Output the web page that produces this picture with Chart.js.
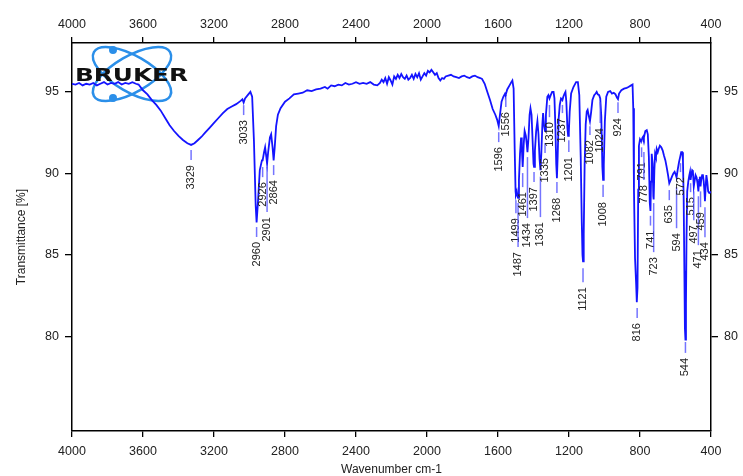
<!DOCTYPE html>
<html>
<head>
<meta charset="utf-8">
<script src="https://cdn.jsdelivr.net/npm/chart.js@4.4.0/dist/chart.umd.min.js"></script>
<style>
    html, body { margin: 0; padding: 0; background: #fff; }
</style>
</head>
<body>
<canvas id="irChart" width="743" height="476"></canvas>
<script>
// IR spectrum (wavenumber cm-1 / transmittance %)
const wavenumbers = [
    4000, 3980, 3960, 3940, 3920, 3900, 3880, 3860, 3840, 3820, 3800, 3780, 3760, 3740, 3720, 3700, 3680, 3660, 3640, 3625,
    3600, 3575, 3550, 3525, 3500, 3475, 3450, 3425, 3400, 3375, 3350, 3329, 3310, 3290, 3270, 3250, 3225, 3200, 3175, 3150,
    3125, 3100, 3075, 3050, 3040, 3033, 3025, 3010, 2995, 2985, 2975, 2965, 2960, 2952, 2942, 2930, 2926, 2918, 2912, 2905,
    2901, 2895, 2885, 2878, 2870, 2864, 2858, 2850, 2840, 2825, 2800, 2775, 2750, 2725, 2700, 2675, 2650, 2625, 2600, 2575,
    2560, 2540, 2520, 2500, 2480, 2460, 2440, 2420, 2400, 2380, 2360, 2340, 2320, 2300, 2280, 2265, 2255, 2245, 2235, 2225,
    2215, 2205, 2195, 2185, 2175, 2165, 2155, 2145, 2135, 2125, 2115, 2105, 2095, 2085, 2075, 2065, 2055, 2045, 2035, 2025,
    2015, 2005, 1995, 1985, 1975, 1965, 1955, 1945, 1935, 1925, 1915, 1905, 1895, 1880, 1865, 1850, 1835, 1820, 1805, 1790,
    1775, 1760, 1745, 1730, 1715, 1700, 1690, 1675, 1660, 1645, 1630, 1615, 1605, 1596, 1590, 1580, 1570, 1560, 1556, 1548,
    1535, 1525, 1519, 1512, 1506, 1501, 1499, 1494, 1490, 1487, 1482, 1476, 1470, 1466, 1461, 1455, 1450, 1443, 1438, 1434,
    1428, 1422, 1417, 1411, 1405, 1400, 1397, 1392, 1385, 1378, 1372, 1366, 1361, 1356, 1350, 1346, 1340, 1335, 1330, 1322,
    1316, 1310, 1303, 1295, 1287, 1282, 1277, 1272, 1268, 1264, 1258, 1252, 1245, 1240, 1237, 1232, 1225, 1220, 1215, 1209,
    1205, 1201, 1196, 1188, 1175, 1160, 1150, 1142, 1134, 1128, 1124, 1121, 1117, 1112, 1106, 1100, 1095, 1088, 1082, 1076,
    1068, 1058, 1050, 1044, 1038, 1030, 1024, 1018, 1012, 1008, 1004, 998, 990, 980, 968, 958, 948, 938, 930, 924,
    918, 905, 890, 875, 865, 850, 842, 838, 834, 828, 822, 818, 814, 810, 806, 800, 795, 791, 786, 780,
    778, 770, 762, 756, 750, 745, 741, 738, 734, 729, 725, 723, 719, 715, 710, 706, 700, 695, 688, 680,
    672, 665, 657, 650, 642, 635, 627, 620, 612, 605, 598, 594, 588, 580, 574, 568, 562, 558, 554, 550,
    547, 544, 541, 538, 534, 528, 522, 518, 515, 511, 506, 502, 497, 493, 487, 481, 476, 471, 467, 463,
    459, 455, 450, 446, 441, 437, 434, 430, 426, 421, 416, 410, 404, 400
];
const transmittance = [
    95.5, 95.45, 95.55, 95.4, 95.5, 95.45, 95.55, 95.4, 95.5, 95.6, 95.45, 95.55, 95.5, 95.6, 95.45, 95.55, 95.5, 95.6, 95.5, 95.45,
    95.1, 94.85, 94.5, 94.2, 93.85, 93.4, 92.95, 92.6, 92.3, 92.05, 91.85, 91.75, 91.85, 92.05, 92.25, 92.5, 92.8, 93.1, 93.4, 93.7,
    93.95, 94.1, 94.25, 94.45, 94.55, 94.35, 94.6, 94.8, 95.0, 94.7, 92.0, 88.0, 87.0, 88.3, 90.2, 90.8, 90.8, 91.3, 91.6, 91.0,
    90.6, 91.3, 92.2, 92.4, 91.6, 90.8, 91.6, 92.9, 93.6, 94.0, 94.4, 94.6, 94.85, 94.9, 94.95, 95.1, 95.05, 95.15, 95.2, 95.3,
    95.2, 95.4, 95.35, 95.45, 95.4, 95.55, 95.45, 95.5, 95.6, 95.5, 95.55, 95.5, 95.6, 95.45, 95.4, 95.55, 95.75, 95.6, 95.85, 95.5,
    95.9, 95.7, 95.45, 95.95, 95.8, 96.05, 95.85, 96.1, 95.9, 95.8, 96.0, 95.75, 95.85, 96.05, 95.8, 96.1, 95.9, 96.15, 95.75, 95.95,
    96.15, 96.0, 96.3, 96.2, 96.35, 96.2, 96.05, 96.15, 95.85, 95.7, 95.85, 95.8, 95.95, 96.0, 96.05, 95.95, 95.9, 95.85, 95.95, 96.0,
    95.9, 95.85, 95.95, 96.0, 95.9, 95.85, 95.8, 95.5, 95.0, 94.5, 93.95, 93.6, 93.3, 92.9, 93.5, 94.4, 94.7, 94.9, 94.85, 95.15,
    95.4, 95.6, 95.7, 95.2, 91.5, 88.9, 88.7, 88.9, 88.6, 88.5, 89.6, 91.2, 92.2, 91.6, 90.4, 91.8, 92.6, 92.3, 91.8, 91.3,
    92.2, 93.6, 94.0, 93.6, 92.0, 90.6, 90.4, 91.4, 92.6, 93.2, 92.4, 90.9, 90.2, 91.2, 93.0, 93.7, 92.9, 92.6, 93.6, 94.7,
    94.8, 94.6, 94.8, 95.0, 95.0, 94.6, 93.0, 90.6, 89.7, 91.0, 93.4, 94.2, 94.6, 94.55, 94.5, 94.7, 94.9, 95.0, 94.4, 92.8,
    92.3, 92.5, 93.8, 94.9, 95.3, 95.6, 95.6, 94.8, 91.0, 87.0, 85.0, 84.6, 86.3, 90.5, 93.0, 93.8, 93.9, 93.5, 93.2, 93.7,
    94.5, 94.8, 94.9, 95.0, 94.85, 94.8, 94.6, 93.5, 90.4, 89.6, 90.5, 93.2, 94.7, 95.0, 95.05, 94.9, 94.95, 94.85, 94.65, 94.55,
    94.9, 95.1, 95.2, 95.25, 95.3, 95.4, 95.45, 94.0, 89.0, 84.8, 83.3, 82.1, 83.0, 89.0, 91.7, 92.1, 92.0, 92.0, 92.2, 92.3,
    92.2, 92.6, 92.65, 92.4, 91.0, 88.2, 87.7, 89.5, 91.2, 90.6, 88.6, 88.4, 90.2, 91.2, 91.0, 91.5, 91.3, 91.5, 91.7, 91.6,
    91.4, 91.1, 90.8, 90.4, 89.9, 89.4, 89.6, 89.8, 90.0, 90.1, 89.9, 89.75, 90.2, 90.7, 91.0, 91.3, 91.3, 90.8, 88.5, 84.0,
    80.5, 79.8, 82.0, 86.0, 88.9, 89.5, 89.9, 90.1, 89.6, 89.9, 90.2, 90.15, 89.2, 89.5, 89.9, 89.75, 89.4, 88.9, 89.6, 89.8,
    89.2, 89.6, 89.9, 89.95, 89.5, 88.9, 88.3, 89.2, 89.9, 89.5, 88.9, 88.8, 88.85, 88.8
];

const xTicks = [4000, 3600, 3200, 2800, 2400, 2000, 1600, 1200, 800, 400];
const yTicks = [80, 85, 90, 95];

// peak picking labels: wavenumber, top and bottom of the marker line (% T)
const peakWn = [3329, 3033, 2960, 2926, 2901, 2864, 1596, 1556, 1499, 1487, 1461, 1434, 1397, 1361, 1335, 1310, 1268, 1237, 1201,
    1121, 1082, 1024, 1008, 924, 816, 791, 778, 741, 723, 635, 594, 572, 544, 515, 497, 471, 459, 434];
const peakLineTop = [91.43, 94.19, 86.71, 90.39, 90.39, 90.51, 92.53, 94.68, 88.36, 88.18, 90.02, 91.0, 90.08, 89.8, 91.86, 94.2, 89.47, 94.2, 92.04,
    84.19, 92.9, 94.37, 89.3, 94.37, 81.74, 91.6, 91.31, 87.4, 88.18, 88.98, 89.16, 90.63, 79.66, 89.4, 88.9, 88.6, 88.9, 87.93];
const peakLineBottom = [90.82, 93.58, 86.10, 89.77, 87.63, 89.90, 91.92, 94.07, 87.56, 85.48, 89.16, 87.26, 89.47, 87.32, 91.25, 93.45, 88.80, 93.70, 91.31,
    83.33, 92.35, 93.09, 88.55, 93.70, 81.13, 91.0, 89.59, 86.8, 85.17, 88.36, 86.64, 90.08, 78.99, 88.85, 87.13, 85.6, 87.93, 86.09];

const tickFont = { family: "'Liberation Sans', Arial, sans-serif", size: 12.5 };
const titleFont = { family: "'Liberation Sans', Arial, sans-serif", size: 12 };

// Logo Bruker arriba a la izquierda
const brukerLogo = {
    id: 'brukerLogo',
    beforeDatasetsDraw(chart) {
        const ctx = chart.ctx;
        const ca = chart.chartArea;
        const cx = ca.left + 60, cy = ca.top + 31;
        ctx.save();
        ctx.strokeStyle = '#2b8fe9';
        ctx.fillStyle = '#2b8fe9';
        ctx.lineWidth = 2.5;
        ctx.beginPath();
        ctx.ellipse(cx, cy, 44, 18, Math.PI / 6, 0, Math.PI * 2);
        ctx.stroke();
        ctx.beginPath();
        ctx.ellipse(cx, cy, 44, 18, -Math.PI / 6, 0, Math.PI * 2);
        ctx.stroke();
        ctx.beginPath();
        ctx.arc(cx - 19, cy - 24, 4, 0, Math.PI * 2);
        ctx.arc(cx - 19, cy + 24, 4, 0, Math.PI * 2);
        ctx.fill();

        ctx.font = "bold 18px 'DejaVu Sans', sans-serif";
        const w = ctx.measureText('BRUKER').width;
        ctx.translate(ca.left + 3, ca.top + 38);
        ctx.scale(113 / w, 1);
        ctx.fillStyle = '#111';
        ctx.textBaseline = 'alphabetic';
        ctx.fillText('BRUKER', 0, 0);
        ctx.restore();
    }
};

// Etiquetas de picos
const peakLabels = {
    id: 'peakLabels',
    afterDatasetsDraw(chart) {
        const ctx = chart.ctx;
        const xs = chart.scales.x;
        const ys = chart.scales.y;
        ctx.save();
        ctx.font = "11px 'Liberation Sans Narrow', 'Arial Narrow', 'Liberation Sans', sans-serif";
        peakWn.forEach((wn, i) => {
            const px = xs.getPixelForValue(wn);
            const y1 = ys.getPixelForValue(peakLineTop[i]);
            const y2 = ys.getPixelForValue(peakLineBottom[i]);
            ctx.strokeStyle = 'rgba(70, 70, 255, 0.75)';
            ctx.lineWidth = 1.5;
            ctx.beginPath();
            ctx.moveTo(px, y1);
            ctx.lineTo(px, y2);
            ctx.stroke();

            ctx.save();
            ctx.translate(px, y2 + 5);
            ctx.rotate(-Math.PI / 2);
            ctx.fillStyle = '#222';
            ctx.textAlign = 'right';
            ctx.textBaseline = 'middle';
            ctx.fillText(String(wn), 0, 0);
            ctx.restore();
        });
        ctx.restore();
    }
};

function xAxis(position, height, withTitle) {
    return {
        type: 'linear',
        position: position,
        min: 400,
        max: 4000,
        reverse: true,
        afterBuildTicks: s => { s.ticks = xTicks.map(v => ({ value: v })); },
        afterFit: s => { s.height = height; },
        ticks: { color: '#222', font: tickFont, padding: position === 'bottom' ? 7 : 5, maxRotation: 0, autoSkip: false, callback: v => String(v) },
        grid: { display: true, drawOnChartArea: false, drawTicks: true, tickLength: 6, color: '#000', lineWidth: 1.3 },
        border: { display: true, color: '#000', width: 1.5 },
        title: { display: withTitle, text: 'Wavenumber cm-1', color: '#222', font: titleFont, padding: { top: 0, bottom: -1 } }
    };
}

function yAxis(position, width, withTitle) {
    return {
        type: 'linear',
        position: position,
        min: 74.2,
        max: 98,
        afterBuildTicks: s => { s.ticks = yTicks.map(v => ({ value: v })); },
        afterFit: s => { s.width = width; },
        ticks: { color: '#222', font: tickFont, padding: 6, callback: v => String(v) },
        grid: { display: true, drawOnChartArea: false, drawTicks: true, tickLength: 7, color: '#000', lineWidth: 1.3 },
        border: { display: true, color: '#000', width: 1.5 },
        title: { display: withTitle, text: 'Transmittance [%]', color: '#222', font: titleFont, padding: { top: 14, bottom: 0 } }
    };
}

new Chart(document.getElementById('irChart'), {
    type: 'line',
    data: {
        datasets: [{
            label: 'Spectrum',
            data: wavenumbers.map((w, i) => ({ x: w, y: transmittance[i] })),
            borderColor: '#1414ff',
            borderWidth: 1.8,
            pointRadius: 0,
            tension: 0,
            fill: false,
            xAxisID: 'x',
            yAxisID: 'y'
        }]
    },
    options: {
        responsive: false,
        animation: false,
        devicePixelRatio: 1,
        layout: { padding: 0 },
        scales: {
            x: xAxis('bottom', 45, true),
            xTop: xAxis('top', 43, false),
            y: yAxis('left', 72, true),
            yRight: yAxis('right', 32, false)
        },
        plugins: {
            legend: { display: false },
            tooltip: { enabled: false }
        }
    },
    plugins: [brukerLogo, peakLabels]
});
</script>
</body>
</html>
